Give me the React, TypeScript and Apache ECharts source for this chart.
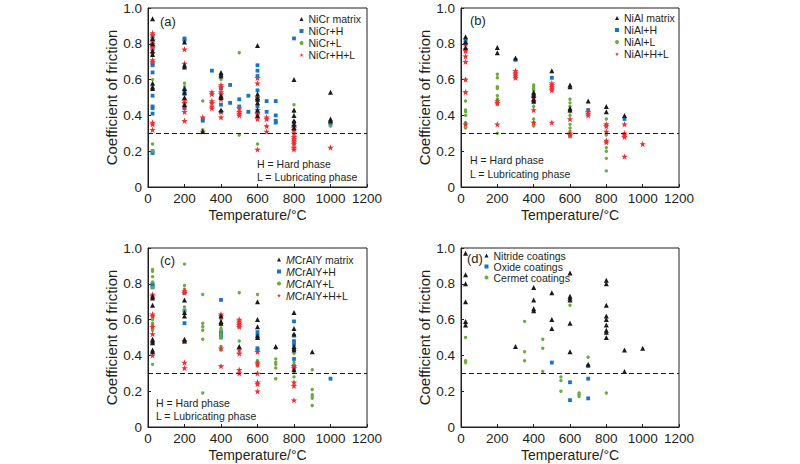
import React, { useEffect, useRef } from "react";
import * as echarts from "echarts";

type P = [number, number];

// ---------- Panel (a) NiCr ----------
const niCrMatrix: P[] = [
  [25, 0.94], [25, 0.83], [25, 0.8], [25, 0.76], [25, 0.74], [25, 0.58], [25, 0.56], [25, 0.55],
  [200, 0.81], [200, 0.68], [200, 0.67], [200, 0.55], [200, 0.53], [200, 0.5], [200, 0.46],
  [300, 0.31],
  [400, 0.64], [400, 0.63], [400, 0.62], [400, 0.51], [400, 0.5], [400, 0.43],
  [600, 0.79], [600, 0.52], [600, 0.5], [600, 0.49], [600, 0.47], [600, 0.43], [600, 0.4],
  [800, 0.6], [800, 0.43], [800, 0.4], [800, 0.37], [800, 0.35], [800, 0.33],
  [1000, 0.53], [1000, 0.38], [1000, 0.37],
];
const niCrH: P[] = [
  [25, 0.84], [25, 0.77], [25, 0.69], [25, 0.68], [25, 0.64], [25, 0.51], [25, 0.45], [25, 0.44], [25, 0.41], [25, 0.2], [25, 0.19],
  [200, 0.83], [200, 0.82], [200, 0.54], [200, 0.52], [200, 0.44],
  [300, 0.38], [300, 0.37],
  [350, 0.65],
  [400, 0.55], [400, 0.46], [400, 0.42],
  [450, 0.57], [450, 0.47],
  [500, 0.49], [500, 0.45],
  [550, 0.51], [550, 0.42],
  [600, 0.68], [600, 0.65], [600, 0.62], [600, 0.54], [600, 0.49], [600, 0.45], [600, 0.41],
  [650, 0.48], [650, 0.42],
  [700, 0.48], [700, 0.4], [700, 0.37], [700, 0.36],
  [800, 0.83], [800, 0.36],
  [1000, 0.36], [1000, 0.35],
];
const niCrL: P[] = [
  [25, 0.6], [25, 0.24], [25, 0.2],
  [200, 0.58], [200, 0.56],
  [300, 0.48], [300, 0.32],
  [400, 0.6], [400, 0.5],
  [500, 0.75], [500, 0.44], [500, 0.29],
  [600, 0.48], [600, 0.24],
  [800, 0.46], [800, 0.42], [800, 0.21],
  [1000, 0.34],
];
const niCrHL: P[] = [
  [25, 0.86], [25, 0.85], [25, 0.82], [25, 0.81], [25, 0.8], [25, 0.79], [25, 0.78], [25, 0.75], [25, 0.71], [25, 0.7], [25, 0.36], [25, 0.35], [25, 0.32],
  [200, 0.77], [200, 0.69], [200, 0.48], [200, 0.47], [200, 0.45], [200, 0.42], [200, 0.37],
  [300, 0.39], [300, 0.31],
  [350, 0.53], [350, 0.52], [350, 0.48], [350, 0.47], [350, 0.45], [350, 0.44],
  [400, 0.57], [400, 0.56], [400, 0.53], [400, 0.52], [400, 0.49], [400, 0.42], [400, 0.39],
  [500, 0.44], [500, 0.42], [500, 0.41], [500, 0.4],
  [600, 0.61], [600, 0.58], [600, 0.5], [600, 0.43], [600, 0.41], [600, 0.38], [600, 0.21],
  [650, 0.39], [650, 0.38], [650, 0.34], [650, 0.31],
  [800, 0.34], [800, 0.33], [800, 0.32], [800, 0.3], [800, 0.28], [800, 0.27], [800, 0.26], [800, 0.25], [800, 0.24], [800, 0.22], [800, 0.21],
  [1000, 0.22],
];

// ---------- Panel (b) NiAl ----------
const niAlMatrix: P[] = [
  [25, 0.84], [25, 0.81], [25, 0.78],
  [200, 0.78], [200, 0.75],
  [300, 0.72],
  [400, 0.53], [400, 0.52], [400, 0.51], [400, 0.49], [400, 0.48],
  [500, 0.65],
  [600, 0.57], [600, 0.56], [600, 0.44], [600, 0.43],
  [700, 0.48],
  [800, 0.45], [800, 0.42],
  [900, 0.4],
];
const niAlH: P[] = [
  [25, 0.82], [25, 0.8],
  [300, 0.71],
  [500, 0.61],
  [700, 0.43],
  [900, 0.38],
];
const niAlL: P[] = [
  [25, 0.6], [25, 0.53], [25, 0.48], [25, 0.43], [25, 0.42], [25, 0.4], [25, 0.36], [25, 0.35], [25, 0.33],
  [200, 0.63], [200, 0.61], [200, 0.56], [200, 0.55], [200, 0.51], [200, 0.49], [200, 0.47], [200, 0.46], [200, 0.3],
  [400, 0.57], [400, 0.56], [400, 0.55], [400, 0.54], [400, 0.47], [400, 0.45], [400, 0.38], [400, 0.36], [400, 0.35], [400, 0.34],
  [600, 0.49], [600, 0.47], [600, 0.45], [600, 0.43], [600, 0.42], [600, 0.4], [600, 0.35], [600, 0.33], [600, 0.31], [600, 0.29], [600, 0.28],
  [800, 0.38], [800, 0.35], [800, 0.3], [800, 0.29], [800, 0.25], [800, 0.22], [800, 0.2], [800, 0.16], [800, 0.09],
];
const niAlHL: P[] = [
  [25, 0.8], [25, 0.77], [25, 0.76], [25, 0.73], [25, 0.7], [25, 0.6], [25, 0.53], [25, 0.35],
  [200, 0.48], [200, 0.47], [200, 0.35],
  [300, 0.65], [300, 0.64], [300, 0.63], [300, 0.62], [300, 0.61],
  [400, 0.5], [400, 0.48], [400, 0.43], [400, 0.36],
  [500, 0.58], [500, 0.57], [500, 0.56], [500, 0.55], [500, 0.54], [500, 0.36],
  [600, 0.38], [600, 0.3], [600, 0.29],
  [700, 0.42], [700, 0.41], [700, 0.4],
  [800, 0.35], [800, 0.34], [800, 0.31], [800, 0.26], [800, 0.25],
  [900, 0.35], [900, 0.3], [900, 0.29], [900, 0.28], [900, 0.17],
  [1000, 0.24],
];

// ---------- Panel (c) MCrAlY ----------
const mcrMatrix: P[] = [
  [25, 0.73], [25, 0.72], [25, 0.68], [25, 0.49], [25, 0.48], [25, 0.47], [25, 0.43], [25, 0.42],
  [200, 0.71], [200, 0.64], [200, 0.62], [200, 0.49], [200, 0.48],
  [400, 0.62], [400, 0.59], [400, 0.58],
  [500, 0.45],
  [600, 0.7], [600, 0.6], [600, 0.56], [600, 0.51], [600, 0.5],
  [700, 0.45],
  [800, 0.64], [800, 0.55], [800, 0.52], [800, 0.45], [800, 0.44], [800, 0.43], [800, 0.32],
  [900, 0.42],
];
const mcrH: P[] = [
  [25, 0.8], [25, 0.79], [25, 0.78],
  [200, 0.75], [200, 0.65], [200, 0.58],
  [400, 0.71], [400, 0.53], [400, 0.52], [400, 0.5],
  [600, 0.53], [600, 0.51], [600, 0.44], [600, 0.43],
  [800, 0.59], [800, 0.51], [800, 0.48], [800, 0.46], [800, 0.38], [800, 0.34],
  [1000, 0.27],
];
const mcrL: P[] = [
  [25, 0.88], [25, 0.87], [25, 0.84], [25, 0.81], [25, 0.78], [25, 0.62], [25, 0.6], [25, 0.58], [25, 0.57], [25, 0.56], [25, 0.54], [25, 0.35],
  [200, 0.91], [200, 0.79], [200, 0.77], [200, 0.67], [200, 0.65],
  [300, 0.74], [300, 0.58], [300, 0.56], [300, 0.54], [300, 0.49], [300, 0.19],
  [400, 0.6], [400, 0.57], [400, 0.55], [400, 0.54], [400, 0.52], [400, 0.5], [400, 0.45], [400, 0.43],
  [500, 0.75], [500, 0.58], [500, 0.48], [500, 0.44],
  [600, 0.74], [600, 0.37], [600, 0.36], [600, 0.34],
  [700, 0.44], [700, 0.38], [700, 0.36], [700, 0.35], [700, 0.33], [700, 0.27],
  [800, 0.41], [800, 0.36], [800, 0.32], [800, 0.31], [800, 0.28],
  [900, 0.32], [900, 0.21], [900, 0.18], [900, 0.17], [900, 0.16], [900, 0.12],
];
const mcrHL: P[] = [
  [25, 0.74], [25, 0.73], [25, 0.63], [25, 0.62], [25, 0.56], [25, 0.52], [25, 0.4],
  [200, 0.76], [200, 0.75], [200, 0.48], [200, 0.36], [200, 0.33],
  [400, 0.63], [400, 0.62], [400, 0.44], [400, 0.34],
  [500, 0.6], [500, 0.59], [500, 0.58], [500, 0.57], [500, 0.56], [500, 0.43], [500, 0.41], [500, 0.32], [500, 0.3],
  [600, 0.42], [600, 0.36], [600, 0.35], [600, 0.3], [600, 0.25], [600, 0.24], [600, 0.2],
  [800, 0.34], [800, 0.33], [800, 0.25], [800, 0.23], [800, 0.15],
];

// ---------- Panel (d) coatings ----------
const nitride: P[] = [
  [25, 0.97], [25, 0.85], [25, 0.8], [25, 0.7], [25, 0.59], [25, 0.57],
  [300, 0.45],
  [400, 0.78], [400, 0.71], [400, 0.66], [400, 0.65],
  [500, 0.75], [500, 0.6], [500, 0.55],
  [600, 0.86], [600, 0.73], [600, 0.72], [600, 0.71], [600, 0.58], [600, 0.42],
  [700, 0.35],
  [800, 0.82], [800, 0.8], [800, 0.68], [800, 0.62], [800, 0.6], [800, 0.57], [800, 0.54], [800, 0.53], [800, 0.5],
  [900, 0.43], [900, 0.31],
  [1000, 0.44],
];
const oxide: P[] = [
  [500, 0.36],
  [600, 0.25], [600, 0.15],
  [700, 0.34], [700, 0.27], [700, 0.16],
];
const cermet: P[] = [
  [25, 0.5], [25, 0.37], [25, 0.36],
  [350, 0.59], [350, 0.42], [350, 0.37],
  [450, 0.49], [450, 0.44], [450, 0.31],
  [550, 0.28], [550, 0.26], [550, 0.2],
  [600, 0.68],
  [650, 0.19], [650, 0.18], [650, 0.17],
  [700, 0.39],
  [800, 0.19],
];

const yTicks = [0, 0.2, 0.4, 0.6, 0.8, 1.0];
const xTicks = [0, 200, 400, 600, 800, 1000, 1200];
const limitCOF = 0.3;

const FONT = "'Liberation Sans', Arial, sans-serif";
const INK = "#231f20";
const BLACK = "#1a1a1a";
const BLUE = "#1b75bb";
const GREEN = "#6cab3d";
const RED = "#ec2f36";
const STAR =
  "path://M50,0 L61.8,35.4 L98.1,35.4 L68.8,57.3 L79.4,92.7 L50,70.8 L20.6,92.7 L31.2,57.3 L1.9,35.4 L38.2,35.4 Z";

const grids = [
  { left: 148, top: 8, width: 219, height: 179 },
  { left: 461, top: 8, width: 218, height: 179 },
  { left: 148, top: 248, width: 219, height: 179 },
  { left: 461, top: 248, width: 218, height: 179 },
];

function buildOption() {
  const xAxis = grids.map((_, i) => ({
    type: "value",
    gridIndex: i,
    min: xTicks[0],
    max: xTicks[xTicks.length - 1],
    interval: 200,
    name: "Temperature/°C",
    nameLocation: "middle",
    nameGap: 21,
    nameTextStyle: { fontFamily: FONT, fontSize: 14, color: INK },
    axisLine: { show: true, onZero: false, lineStyle: { color: INK, width: 1 } },
    axisTick: { show: true, inside: true, length: 3, lineStyle: { color: INK } },
    axisLabel: {
      margin: 4,
      fontFamily: FONT,
      fontSize: 13.5,
      color: INK,
      formatter: (v: number) => String(v),
    },
    splitLine: { show: false },
  }));
  const yAxis = grids.map((_, i) => ({
    type: "value",
    gridIndex: i,
    min: yTicks[0],
    max: yTicks[yTicks.length - 1],
    interval: 0.2,
    name: "Coefficient of friction",
    nameLocation: "middle",
    nameGap: 28,
    nameTextStyle: { fontFamily: FONT, fontSize: 15, color: INK },
    axisLine: { show: true, onZero: false, lineStyle: { color: INK, width: 1 } },
    axisTick: { show: true, inside: true, length: 3, lineStyle: { color: INK } },
    axisLabel: {
      margin: 6,
      fontFamily: FONT,
      fontSize: 13.5,
      color: INK,
      formatter: (v: number) => (v === 0 ? "0" : v.toFixed(1)),
    },
    splitLine: { show: false },
  }));

  const mk = (name: string, data: P[], idx: number, kind: string, withLine = false) => {
    const sym: Record<string, any> = {
      tri: { symbol: "triangle", symbolSize: [5, 5], color: BLACK },
      sq: { symbol: "rect", symbolSize: 3.8, color: BLUE },
      dot: { symbol: "circle", symbolSize: 3.4, color: GREEN },
      star: { symbol: STAR, symbolSize: 6.5, color: RED },
    };
    const s = sym[kind];
    const series: any = {
      type: "scatter",
      name,
      xAxisIndex: idx,
      yAxisIndex: idx,
      data,
      symbol: s.symbol,
      symbolSize: s.symbolSize,
      itemStyle: { color: s.color, opacity: 1 },
      emphasis: { disabled: true },
      silent: true,
      z: kind === "star" ? 3 : kind === "tri" ? 4 : 2,
    };
    if (withLine) {
      series.markLine = {
        silent: true,
        symbol: ["none", "none"],
        label: { show: false },
        lineStyle: { type: [5, 3], color: BLACK, width: 1 },
        data: [{ yAxis: limitCOF }],
        animation: false,
      };
    }
    return series;
  };

  const series = [
    mk("NiCr matrix", niCrMatrix, 0, "tri", true),
    mk("NiCr+H", niCrH, 0, "sq"),
    mk("NiCr+L", niCrL, 0, "dot"),
    mk("NiCr+H+L", niCrHL, 0, "star"),
    mk("NiAl matrix", niAlMatrix, 1, "tri", true),
    mk("NiAl+H", niAlH, 1, "sq"),
    mk("NiAl+L", niAlL, 1, "dot"),
    mk("NiAl+H+L", niAlHL, 1, "star"),
    mk("MCrAlY matrix", mcrMatrix, 2, "tri", true),
    mk("MCrAlY+H", mcrH, 2, "sq"),
    mk("MCrAlY+L", mcrL, 2, "dot"),
    mk("MCrAlY+H+L", mcrHL, 2, "star"),
    mk("Nitride coatings", nitride, 3, "tri", true),
    mk("Oxide coatings", oxide, 3, "sq"),
    mk("Cermet coatings", cermet, 3, "dot"),
  ];

  const legendBase = {
    orient: "vertical",
    itemWidth: 4,
    itemHeight: 4,
    itemGap: 0,
    padding: 0,
    selectedMode: false,
    textStyle: { fontFamily: FONT, fontSize: 10.5, color: INK, lineHeight: 12 },
  };
  const legend = [
    { ...legendBase, left: 299.5, top: 13, data: ["NiCr matrix", "NiCr+H", "NiCr+L", "NiCr+H+L"] },
    { ...legendBase, left: 615, top: 12, data: ["NiAl matrix", "NiAl+H", "NiAl+L", "NiAl+H+L"] },
    {
      ...legendBase,
      left: 277,
      top: 253.5,
      data: ["MCrAlY matrix", "MCrAlY+H", "MCrAlY+L", "MCrAlY+H+L"],
      formatter: (n: string) => `{i|M}{n|${n.slice(1)}}`,
      textStyle: {
        fontFamily: FONT,
        fontSize: 10.5,
        color: INK,
        lineHeight: 12,
        rich: {
          i: { fontStyle: "italic", fontFamily: FONT, fontSize: 10.5, color: INK, lineHeight: 12 },
          n: { fontFamily: FONT, fontSize: 10.5, color: INK, lineHeight: 12 },
        },
      },
    },
    {
      ...legendBase,
      left: 484.5,
      top: 250,
      textStyle: { fontFamily: FONT, fontSize: 10.5, color: INK, lineHeight: 11 },
      data: ["Nitride coatings", "Oxide coatings", "Cermet coatings"],
    },
  ];

  const txt = (text: string, x: number, y: number, size: number) => ({
    type: "text",
    x,
    y,
    silent: true,
    style: { text, fontFamily: FONT, fontSize: size, fill: INK, verticalAlign: "middle", align: "left" },
  });

  const graphic = [
    txt("(a)", 160, 21, 13),
    txt("(b)", 470, 20, 13),
    txt("(c)", 160, 260, 13),
    txt("(d)", 467, 258, 13),
    txt("H = Hard phase", 257, 164, 10.5),
    txt("L = Lubricating phase", 257, 177, 10.5),
    txt("H = Hard phase", 470, 160, 10.5),
    txt("L = Lubricating phase", 470, 173.5, 10.5),
    txt("H = Hard phase", 156, 403, 10.5),
    txt("L = Lubricating phase", 156, 416, 10.5),
  ];

  return {
    animation: false,
    backgroundColor: "#ffffff",
    grid: grids.map((g) => ({ ...g, show: true, borderColor: INK, borderWidth: 1, backgroundColor: "transparent" })),
    xAxis,
    yAxis,
    legend,
    series,
    graphic,
  };
}

export default function App() {
  const ref = useRef<HTMLDivElement>(null);
  useEffect(() => {
    if (!ref.current) return;
    const chart = echarts.init(ref.current, undefined, { renderer: "svg" });
    chart.setOption(buildOption() as any);
    return () => chart.dispose();
  }, []);
  return (
    <div
      ref={ref}
      style={{ position: "fixed", left: 0, top: 0, width: 800, height: 464, background: "#fff" }}
    />
  );
}
